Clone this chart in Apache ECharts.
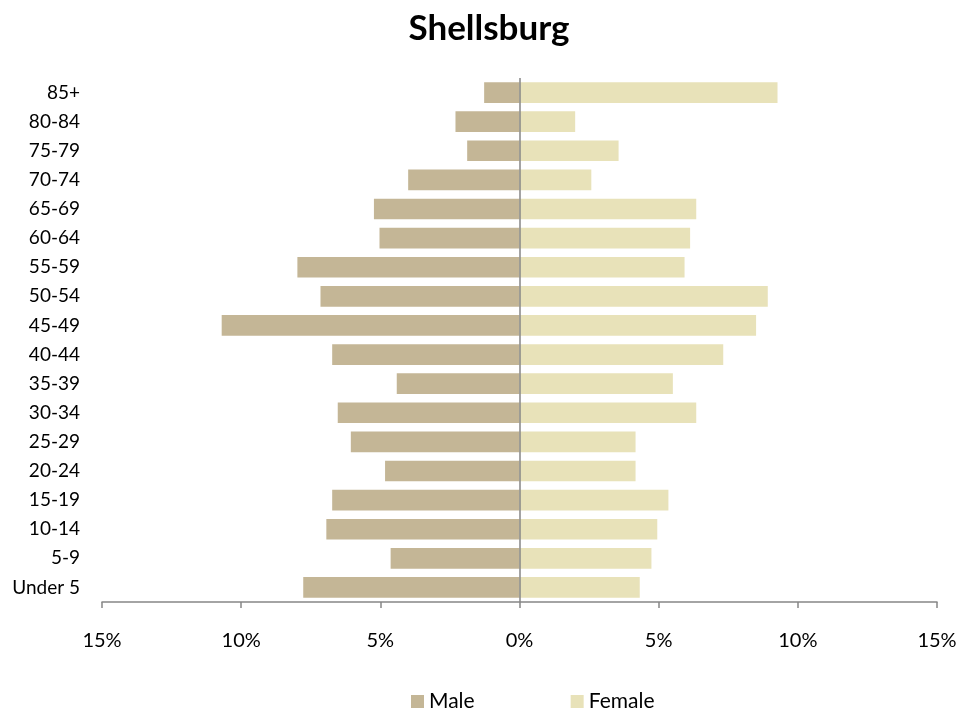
<!DOCTYPE html>
<html>
<head>
<meta charset="utf-8">
<script src="https://cdn.jsdelivr.net/npm/echarts@6/dist/echarts.min.js"></script>
<style>
  html, body { margin: 0; padding: 0; background: #fff; }
  #main { width: 979px; height: 713px; }
</style>
</head>
<body>
<div id="main"></div>
<script>
// age groups, bottom to top
var ageGroups = ['Under 5', '5-9', '10-14', '15-19', '20-24', '25-29', '30-34', '35-39', '40-44',
    '45-49', '50-54', '55-59', '60-64', '65-69', '70-74', '75-79', '80-84', '85+'];
// percent of population
var maleValues = [7.77, 4.63, 6.94, 6.73, 4.83, 6.06, 6.53, 4.41, 6.73,
    10.7, 7.15, 7.98, 5.03, 5.23, 4.0, 1.88, 2.3, 1.27];
var femaleValues = [4.32, 4.74, 4.95, 5.35, 4.17, 4.17, 6.35, 5.51, 7.32,
    8.5, 8.92, 5.93, 6.13, 6.35, 2.58, 3.56, 2.0, 9.27];
var xTicks = [-15, -10, -5, 0, 5, 10, 15];

var font = 'Lato, "Open Sans", sans-serif';
var grey = '#868686';

var chart = echarts.init(document.getElementById('main'));
chart.setOption({
    animation: false,
    title: {
        text: 'Shellsburg',
        left: 484,
        textAlign: 'center',
        top: 6,
        textStyle: { fontFamily: font, fontSize: 35, fontWeight: 'bold', color: '#000' }
    },
    legend: {
        data: ['Male', 'Female'],
        left: 406,
        top: 686,
        icon: 'rect',
        itemWidth: 13,
        itemHeight: 13,
        itemGap: 96,
        textStyle: { fontFamily: font, fontSize: 21, color: '#000' }
    },
    grid: { left: 102, right: 42, top: 78, bottom: 111 },
    xAxis: {
        type: 'value',
        min: xTicks[0],
        max: xTicks[xTicks.length - 1],
        interval: 5,
        splitLine: { show: false },
        axisLine: { show: true, lineStyle: { color: grey, width: 1.5 } },
        axisTick: { show: true, length: 6, lineStyle: { color: grey, width: 1.5 } },
        axisLabel: {
            margin: 29,
            fontFamily: font, fontSize: 20, color: '#000',
            formatter: function (v) { return Math.abs(v) + '%'; }
        }
    },
    yAxis: {
        type: 'category',
        data: ageGroups,
        axisLine: { show: false },
        axisTick: { show: false },
        axisLabel: { margin: 22, fontFamily: font, fontSize: 19, color: '#000' }
    },
    series: [
        {
            name: 'Male',
            type: 'bar',
            stack: 'pop',
            barCategoryGap: '29%',
            itemStyle: { color: '#C4B696' },
            data: maleValues.map(function (v) { return -v; }),
            markLine: {
                silent: true,
                symbol: 'none',
                label: { show: false },
                lineStyle: { color: grey, type: 'solid', width: 1.5 },
                data: [{ xAxis: 0 }]
            }
        },
        {
            name: 'Female',
            type: 'bar',
            stack: 'pop',
            itemStyle: { color: '#E8E2B9' },
            data: femaleValues
        }
    ]
});
</script>
</body>
</html>
